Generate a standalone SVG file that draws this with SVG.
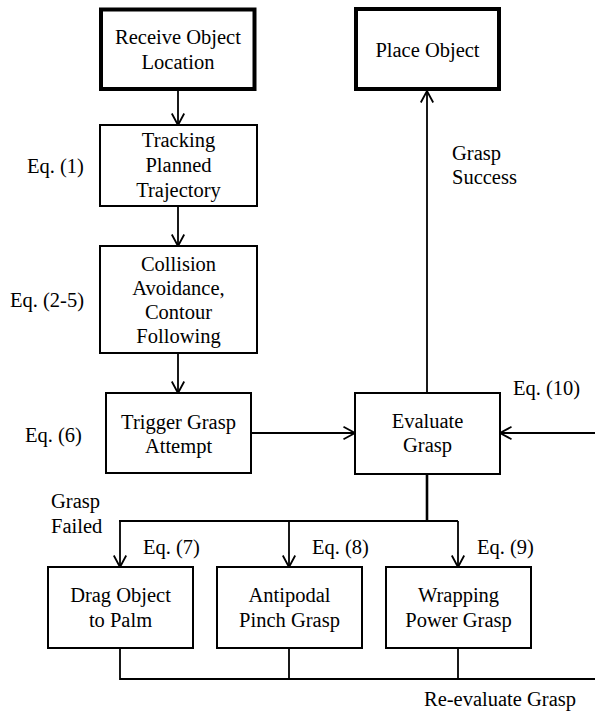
<svg xmlns="http://www.w3.org/2000/svg" width="595" height="717" viewBox="0 0 595 717">
<style>
text{font-family:'Liberation Serif','DejaVu Serif',serif;font-size:20.5px;fill:#000}
.c{text-anchor:middle}
.box{fill:#fff;stroke:#000;stroke-width:2}
.thick{fill:#fff;stroke:#000;stroke-width:4}
.ln{fill:none;stroke:#000;stroke-width:1.8}
.ln2{fill:none;stroke:#000;stroke-width:2.6}
</style>
<defs>
<marker id="arr" viewBox="0 0 14 14" refX="12.5" refY="7" markerWidth="14" markerHeight="14" markerUnits="userSpaceOnUse" orient="auto">
<path d="M1,0.8 L12.5,7 L1,13.2" fill="none" stroke="#000" stroke-width="1.8"/>
</marker>
</defs>
<rect width="595" height="717" fill="#fff"/>
<g id="connectors">
<path class="ln" d="M178,91 V125" marker-end="url(#arr)"/>
<path class="ln" d="M178,206 V246" marker-end="url(#arr)"/>
<path class="ln" d="M178,353 V393" marker-end="url(#arr)"/>
<path class="ln" d="M251,433 H355" marker-end="url(#arr)"/>
<path class="ln" d="M427,393 V91" marker-end="url(#arr)"/>
<path class="ln" d="M595,433 H500" marker-end="url(#arr)"/>
<path class="ln2" d="M427,474 V521"/>
<path class="ln" d="M119,521 H458"/>
<path class="ln" d="M120,521 V567" marker-end="url(#arr)"/>
<path class="ln" d="M289,521 V567" marker-end="url(#arr)"/>
<path class="ln" d="M458,521 V567" marker-end="url(#arr)"/>
<path class="ln" d="M120,648 V679 H595"/>
<path class="ln" d="M289,648 V679"/>
<path class="ln" d="M458,648 V679"/>
</g>
<g font-family="Liberation Serif, DejaVu Serif, serif" font-size="20.5">
<g id="receive">
<rect class="thick" x="101" y="9.5" width="153.5" height="79.5"/>
<text class="c" x="178" y="44">Receive Object</text>
<text class="c" x="178" y="68.5">Location</text>
</g>
<g id="place">
<rect class="thick" x="356" y="9" width="143" height="80"/>
<text class="c" x="427.5" y="56.5">Place Object</text>
</g>
<g id="tracking">
<rect class="box" x="100" y="125" width="157" height="81"/>
<text class="c" x="178.5" y="147">Tracking</text>
<text class="c" x="178.5" y="172">Planned</text>
<text class="c" x="178.5" y="197">Trajectory</text>
</g>
<g id="collision">
<rect class="box" x="100" y="246" width="157" height="107"/>
<text class="c" x="178.5" y="270.5">Collision</text>
<text class="c" x="178.5" y="295">Avoidance,</text>
<text class="c" x="178.5" y="319">Contour</text>
<text class="c" x="178.5" y="343">Following</text>
</g>
<g id="trigger">
<rect class="box" x="106" y="393" width="145" height="80"/>
<text class="c" x="178.5" y="429">Trigger Grasp</text>
<text class="c" x="178.5" y="453">Attempt</text>
</g>
<g id="evaluate">
<rect class="box" x="355" y="393" width="145" height="81"/>
<text class="c" x="427.5" y="428">Evaluate</text>
<text class="c" x="427.5" y="452">Grasp</text>
</g>
<g id="drag">
<rect class="box" x="48" y="567" width="145" height="81"/>
<text class="c" x="120.5" y="602">Drag Object</text>
<text class="c" x="120.5" y="627">to Palm</text>
</g>
<g id="antipodal">
<rect class="box" x="217" y="567" width="145" height="81"/>
<text class="c" x="289.5" y="602">Antipodal</text>
<text class="c" x="289.5" y="627">Pinch Grasp</text>
</g>
<g id="wrapping">
<rect class="box" x="386" y="567" width="145" height="81"/>
<text class="c" x="458.5" y="602">Wrapping</text>
<text class="c" x="458.5" y="627">Power Grasp</text>
</g>
<g id="labels">
<text x="27" y="172.5">Eq. (1)</text>
<text x="10" y="307">Eq. (2-5)</text>
<text x="25" y="442">Eq. (6)</text>
<text x="513" y="395">Eq. (10)</text>
<text x="452" y="160">Grasp</text>
<text x="452" y="184">Success</text>
<text x="51" y="508">Grasp</text>
<text x="51" y="533">Failed</text>
<text x="143" y="554">Eq. (7)</text>
<text x="312" y="554">Eq. (8)</text>
<text x="477" y="554">Eq. (9)</text>
<text x="424" y="706">Re-evaluate Grasp</text>
</g>
</g>
</svg>
